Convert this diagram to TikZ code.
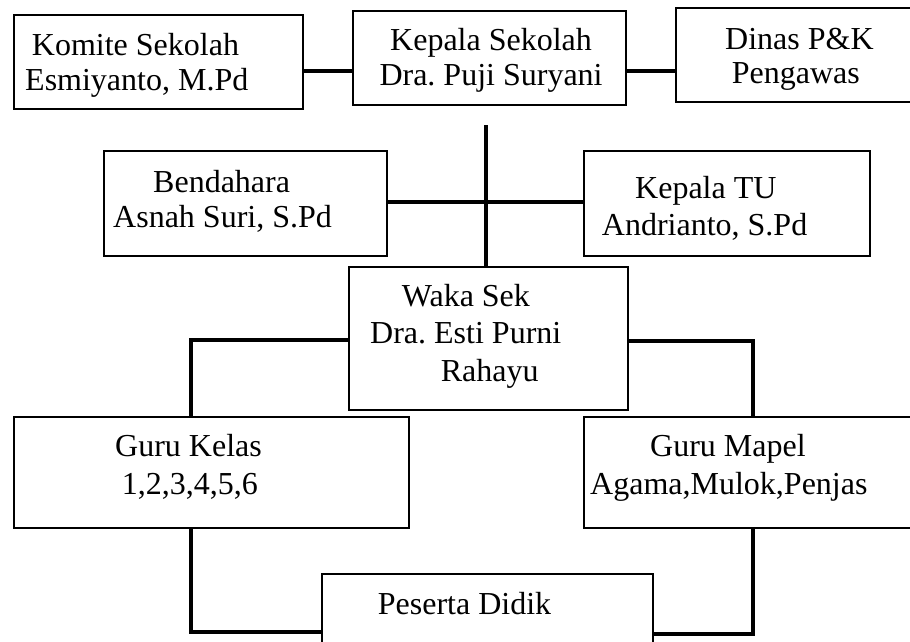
\documentclass[tikz,border=0pt]{standalone}
\usepackage{fontspec}
\setmainfont{Liberation Serif}
\frenchspacing
\begin{document}
\begin{tikzpicture}[x=1pt,y=-1pt,
  orgbox/.style={draw=black,line width=1.4pt,rectangle,inner sep=0pt,fill=white},
  txt/.style={anchor=base west,inner sep=0pt,font=\fontsize{32}{36}\selectfont},
  conn/.style={line width=3.3pt,line join=miter}]
\useasboundingbox (0,0) rectangle (910,641);
% boxes
\node[orgbox,minimum width=289pt,minimum height=94pt] (komite) at (158.5,62) {};
\node[orgbox,minimum width=273pt,minimum height=94pt] (kepala) at (489.5,58) {};
\node[orgbox,minimum width=236pt,minimum height=94pt] (dinas) at (794,55) {};
\node[orgbox,minimum width=283pt,minimum height=105pt] (bend) at (245.5,203.5) {};
\node[orgbox,minimum width=286pt,minimum height=105pt] (ktu) at (727,203.5) {};
\node[orgbox,minimum width=279pt,minimum height=143pt] (waka) at (488.5,338.5) {};
\node[orgbox,minimum width=395pt,minimum height=111pt] (gkelas) at (211.5,472.5) {};
\node[orgbox,minimum width=328pt,minimum height=111pt] (gmapel) at (748,472.5) {};
\node[orgbox,minimum width=331pt,minimum height=86pt] (peserta) at (487.5,617) {};
% texts
\node[txt] (t1) at (31.7,55) {Komite Sekolah};
\node[txt] (t2) at (25,90.7) {Esmiyanto, M.Pd};
\node[txt] (t3) at (390,50) {Kepala Sekolah};
\node[txt] (t4) at (379.3,85) {Dra. Puji Suryani};
\node[txt] (t5) at (725,49.3) {Dinas P\&K};
\node[txt] (t6) at (731.7,83.3) {Pengawas};
\node[txt] (t7) at (153,192.7) {Bendahara};
\node[txt] (t8) at (113,227.7) {Asnah Suri, S.Pd};
\node[txt] (t9) at (635,198) {Kepala TU};
\node[txt] (t10) at (601.7,235) {Andrianto, S.Pd};
\node[txt] (t11) at (401.7,306.7) {Waka Sek};
\node[txt] (t12) at (370,343) {Dra. Esti Purni};
\node[txt] (t13) at (440.7,381.7) {Rahayu};
\node[txt] (t14) at (115,456) {Guru Kelas};
\node[txt] (t15) at (121.7,494) {1,2,3,4,5,6};
\node[txt] (t16) at (650,456) {Guru Mapel};
\node[txt] (t17) at (590,494) {Agama,Mulok,Penjas};
\node[txt] (t18) at (377.7,614) {Peserta Didik};
% helper coordinates
\coordinate (ytop) at (0,71);
\coordinate (ymid) at (0,202);
\coordinate (vtop) at (486,125);
\coordinate (lk) at (191,340);
\coordinate (rk) at (753,341);
\coordinate (lb) at (191,632);
\coordinate (rb) at (753,634);
% connectors
\draw[conn] (komite.east |- ytop) -- (kepala.west |- ytop);
\draw[conn] (kepala.east |- ytop) -- (dinas.west |- ytop);
\draw[conn] (vtop) -- (vtop |- waka.north);
\draw[conn] (bend.east |- ymid) -- (ktu.west |- ymid);
\draw[conn] (waka.west |- lk) -- (lk) -- (lk |- gkelas.north);
\draw[conn] (waka.east |- rk) -- (rk) -- (rk |- gmapel.north);
\draw[conn] (lb |- gkelas.south) -- (lb) -- (peserta.west |- lb);
\draw[conn] (rb |- gmapel.south) -- (rb) -- (peserta.east |- rb);
\end{tikzpicture}
\end{document}
